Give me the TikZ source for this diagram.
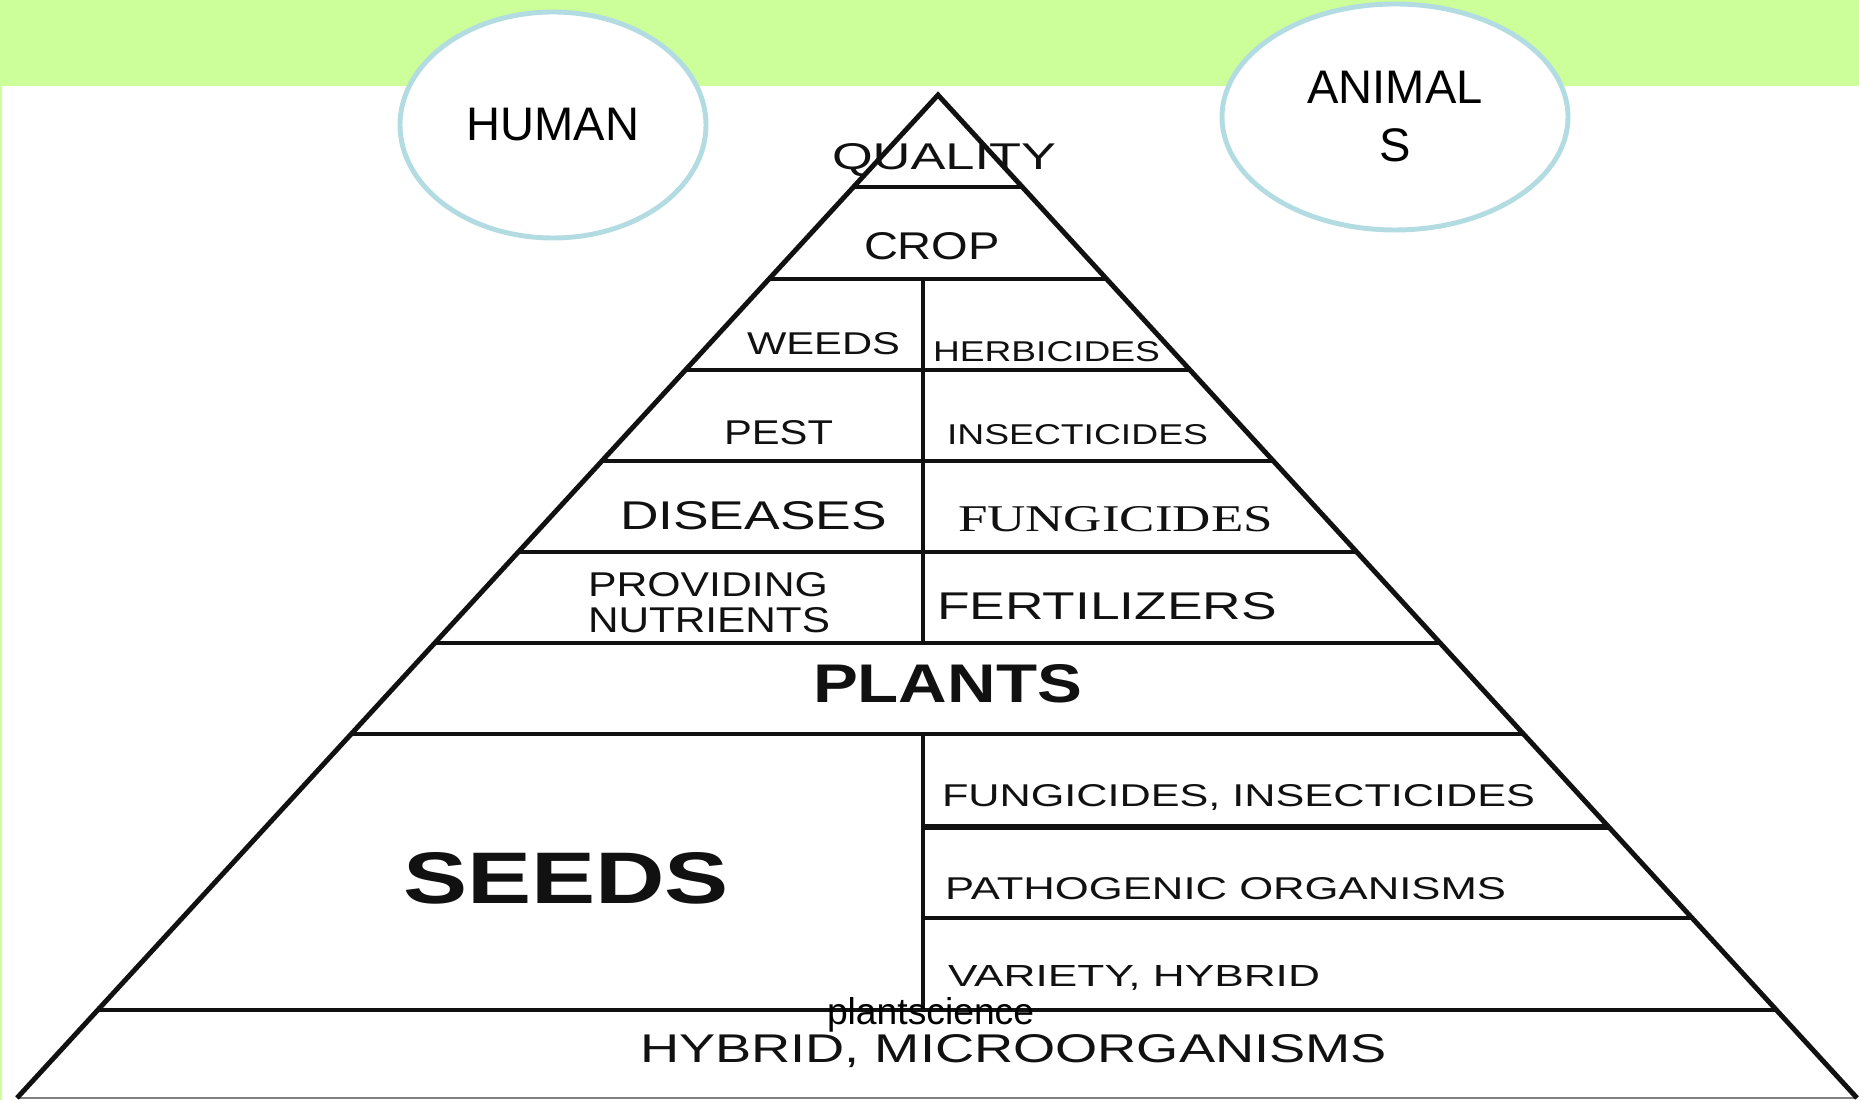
\documentclass[tikz,border=0pt]{standalone}
\usepackage{fontspec}
\setmainfont{Liberation Sans}
\newfontfamily\serifface{Liberation Serif}
\usetikzlibrary{calc,shapes.geometric}
\newlength\pxu \setlength\pxu{0.1mm}
\newcommand\fitbox[3]{\resizebox{#1\pxu}{#2\pxu}{#3}}
\definecolor{bandgreen}{HTML}{CCFF99}
\definecolor{bubbleedge}{HTML}{B2DCE2}
\definecolor{inkc}{HTML}{111111}
\tikzset{
  edge/.style={line width=1.4pt, line join=miter, draw=inkc},
  tier/.style={line width=1.1pt, draw=inkc},
  lbl/.style={anchor=base west, inner sep=0pt, outer sep=0pt, text=inkc},
  bubble/.style={ellipse, draw=bubbleedge, fill=white, line width=1.4pt, inner sep=0pt, align=center, font=\fontsize{13.4}{16.5}\selectfont},
}
\begin{document}
\begin{tikzpicture}[x=0.1mm,y=-0.1mm]
\fill[white] (0,0) rectangle (1859,1100);
\useasboundingbox (0,0) rectangle (1859,1100);
\fill[bandgreen] (0,0) rectangle (1859,86);
\fill[bandgreen] (0,86) rectangle (2,1100);

% bubbles
\node[bubble, minimum width=30.6mm, minimum height=22.6mm] (human) at (553,125) {HUMAN};
\node[bubble, minimum width=34.6mm, minimum height=22.6mm] (animals) at (1395,117) {ANIMAL\\S};

% pyramid
\coordinate (apex) at (938,95);
\coordinate (bl) at (17,1098);
\coordinate (br) at (1857,1098);
\draw[line width=0.6pt, draw=gray] (bl) -- (br);
\draw[edge] (bl) -- (apex) -- (br);
\foreach \yy in {187,279,370,461,552,643,734,1010}
  \draw[tier] ($(apex)!{(\yy-95)/1003}!(bl)$) -- ($(apex)!{(\yy-95)/1003}!(br)$);
\draw[tier] (923,918) -- ($(apex)!{(918-95)/1003}!(br)$);
\draw[line width=1.6pt, draw=inkc] (923,827) -- ($(apex)!{(827-95)/1003}!(br)$);
\draw[tier] (923,279) -- (923,643);
\draw[tier] (923,734) -- (923,1010);

% labels
\node[lbl] (quality) at (832,170) {\fitbox{224}{26}{QUALITY}};
\node[lbl] (crop) at (864,260) {\fitbox{136}{27}{CROP}};
\node[lbl] (weeds) at (747,355) {\fitbox{153}{22}{WEEDS}};
\node[lbl] (herb) at (933,362) {\fitbox{227}{20}{HERBICIDES}};
\node[lbl] (pest) at (724,445) {\fitbox{109}{24}{PEST}};
\node[lbl] (insect) at (947,445) {\fitbox{261}{20}{INSECTICIDES}};
\node[lbl] (dis) at (620,530) {\fitbox{267}{28}{DISEASES}};
\node[lbl] (fung) at (958,532) {\fitbox{315}{25}{\serifface FUNGICIDES}};
\node[lbl] (prov) at (588,597) {\fitbox{240}{24}{PROVIDING}};
\node[lbl] (nutr) at (588,633) {\fitbox{242}{25}{NUTRIENTS}};
\node[lbl] (fert) at (937,620) {\fitbox{340}{27}{FERTILIZERS}};
\node[lbl] (plants) at (813,703) {\fitbox{269}{38}{\bfseries PLANTS}};
\node[lbl] (fi) at (942,807) {\fitbox{593}{22}{FUNGICIDES, INSECTICIDES}};
\node[lbl] (path) at (945,900) {\fitbox{561}{22}{PATHOGENIC ORGANISMS}};
\node[lbl] (var) at (948,987) {\fitbox{372}{21}{VARIETY, HYBRID}};
\node[lbl] (seeds) at (403,904) {\fitbox{326}{51}{\bfseries SEEDS}};
\node[lbl] (hm) at (640,1063) {\fitbox{747}{28}{HYBRID, MICROORGANISMS}};
\node[lbl, text=black, font=\fontsize{10.6}{12}\selectfont] (ps) at (827,1025) {plantscience};
\end{tikzpicture}
\end{document}
